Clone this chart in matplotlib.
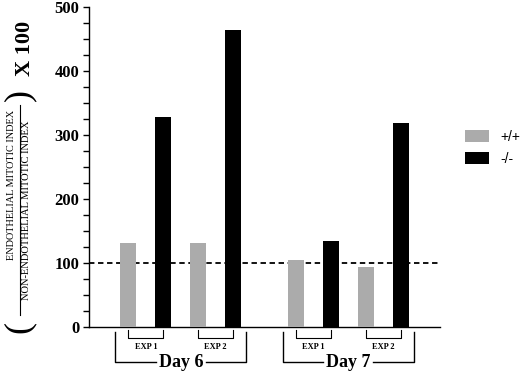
import matplotlib.pyplot as plt
import matplotlib.transforms as mtransforms
from matplotlib.lines import Line2D
from matplotlib.patches import Patch

days = ["Day 6", "Day 7"]
experiments = ["EXP 1", "EXP 2"]
genotypes = ["+/+", "-/-"]
# values[day][exp] = (+/+, -/-)
values = [
    [(132, 328), (132, 464)],
    [(105, 134), (93, 319)],
]
reference_level = 100

colors = ["#ababab", "black"]
serif = "Liberation Serif"
W, H = 520, 374

fig = plt.figure(figsize=(5.2, 3.74), dpi=100)
ax = fig.add_axes([89 / W, 47 / H, 351 / W, 320 / H])

day_step, exp_step, geno_step = 4.8, 2.0, 1.0
width = 0.46

trans = mtransforms.blended_transform_factory(ax.transData, ax.transAxes)
for d, day in enumerate(days):
    centers = []
    for e, exp in enumerate(experiments):
        xs = []
        for g in range(len(genotypes)):
            x = d * day_step + e * exp_step + g * geno_step
            xs.append(x)
            ax.bar(x, values[d][e][g], width=width, color=colors[g], zorder=3)
        centers.extend(xs)
        # EXP bracket
        ax.plot([xs[0], xs[0], xs[1], xs[1]], [-0.009, -0.034, -0.034, -0.009],
                color="black", lw=0.8, transform=trans, clip_on=False)
        ax.text((xs[0] + xs[1]) / 2, -0.061, exp, transform=trans, ha="center",
                va="center", fontsize=6, family=serif, fontweight="bold")
    # Day bracket, label sits in a gap of the bottom line
    x0, x1 = centers[0] - 0.38, centers[-1] + 0.38
    mid = (x0 + x1) / 2
    gap = 0.72
    ax.plot([x0, x0, mid - gap], [-0.016, -0.109, -0.109], color="black",
            lw=1.0, transform=trans, clip_on=False)
    ax.plot([mid + gap, x1, x1], [-0.109, -0.109, -0.016], color="black",
            lw=1.0, transform=trans, clip_on=False)
    ax.text(mid, -0.11, day, transform=trans, ha="center", va="center",
            fontsize=13, family=serif, fontweight="bold")

ax.axhline(reference_level, color="black", ls=(0, (3, 2)), lw=1.3, zorder=1)

ax.set_xlim(-1.13, 8.93)
ax.set_ylim(0, 500)
ax.set_yticks(range(0, 501, 100))
ax.set_yticks(range(0, 501, 25), minor=True)
ax.tick_params(axis="y", which="both", length=4, width=1.0, direction="out")
ax.tick_params(axis="y", labelsize=12, pad=3)
for lab in ax.get_yticklabels():
    lab.set_family(serif)
    lab.set_fontweight("bold")
ax.set_xticks([])
for s in ["top", "right"]:
    ax.spines[s].set_visible(False)
ax.spines["left"].set_linewidth(1.0)
ax.spines["bottom"].set_linewidth(1.0)

# y label: (ENDOTHELIAL / NON-ENDOTHELIAL) x 100, built from pieces
fig.text(12 / W, 1 - 185 / H, "ENDOTHELIAL MITOTIC INDEX", rotation=90,
         ha="center", va="center", fontsize=7.4, family=serif)
fig.text(27 / W, 1 - 210 / H, "NON-ENDOTHELIAL MITOTIC INDEX", rotation=90,
         ha="center", va="center", fontsize=7.6, family=serif)
fig.add_artist(Line2D([19.5 / W, 19.5 / W], [1 - 105 / H, 1 - 315 / H],
                      color="black", lw=0.8, transform=fig.transFigure))
fig.text(19.5 / W, 1 - 327 / H, "(", rotation=90, ha="center", va="center",
         fontsize=26, family=serif)
fig.text(19.5 / W, 1 - 95 / H, ")", rotation=90, ha="center", va="center",
         fontsize=26, family=serif)
fig.text(25.5 / W, 1 - 48 / H, "X 100", rotation=90, ha="center",
         va="center", fontsize=16, family=serif, fontweight="bold")

handles = [Patch(facecolor=c, edgecolor="none") for c in colors]
fig.legend(handles, genotypes, loc="upper left",
           bbox_to_anchor=(465 / W, 1 - 130 / H), borderpad=0,
           borderaxespad=0, frameon=False, handlelength=1.75,
           handleheight=0.95, handletextpad=0.8, labelspacing=0.55,
           prop={"family": "Liberation Sans", "size": 10})

fig.savefig("out.png", dpi=100)
